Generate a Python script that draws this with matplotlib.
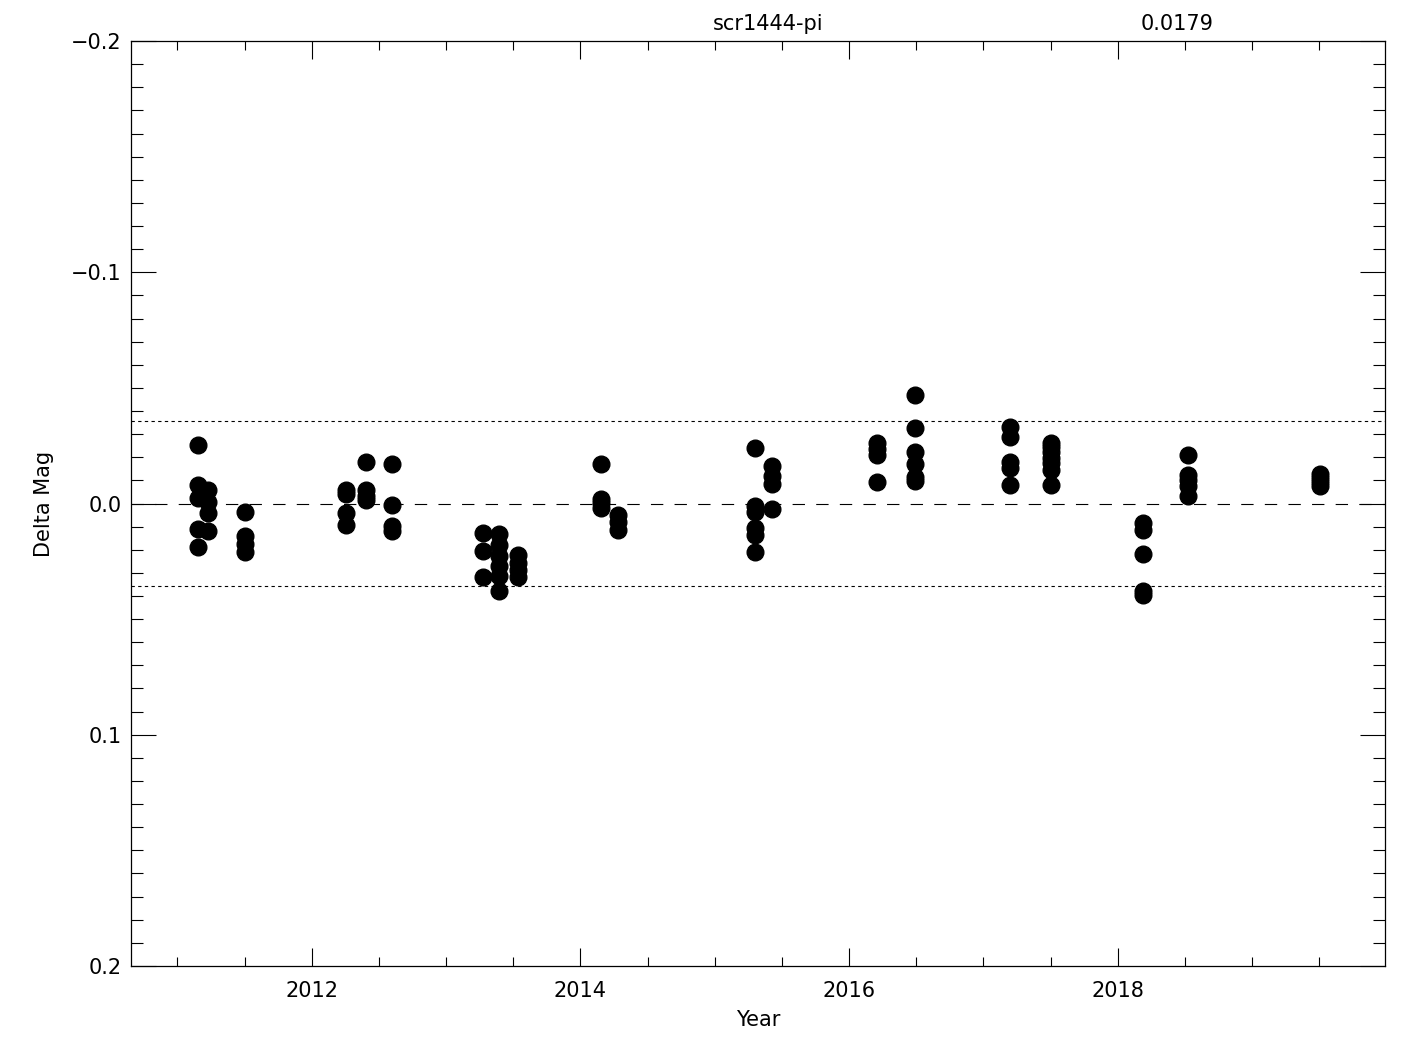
import numpy as np
import matplotlib
matplotlib.use('Agg')
import matplotlib.pyplot as plt
from matplotlib.ticker import MultipleLocator

plt.rcParams.update({'font.size': 15, 'font.family': 'DejaVu Sans', 'lines.scale_dashes': False})

star = 'scr1444-pi'
scatter_val = 0.0179

# epoch (decimal year) and the delta mags measured on that night
epochs = [2011.155, 2011.225, 2011.505, 2012.256, 2012.405, 2012.599,
          2013.272, 2013.391, 2013.533, 2014.157, 2014.281, 2015.299,
          2015.429, 2016.212, 2016.492, 2017.200, 2017.504, 2018.187,
          2018.527, 2019.504]
mags = [
    [-0.0253, -0.0080, -0.0024, 0.0110, 0.0188],
    [-0.0058, -0.0006, 0.0041, 0.0119],
    [0.0037, 0.0141, 0.0175, 0.0209],
    [-0.0058, -0.0041, 0.0041, 0.0093],
    [-0.0179, -0.0058, -0.0032, -0.0015],
    [-0.0171, 0.0006, 0.0097, 0.0119],
    [0.0128, 0.0205, 0.0318],
    [0.0132, 0.0179, 0.0227, 0.0270, 0.0314, 0.0378],
    [0.0223, 0.0257, 0.0288, 0.0318],
    [-0.0171, -0.0019, -0.0002, 0.0019],
    [0.0050, 0.0080, 0.0115],
    [-0.0240, 0.0011, 0.0037, 0.0106, 0.0136, 0.0210],
    [-0.0162, -0.0119, -0.0084, 0.0024],
    [-0.0262, -0.0236, -0.0210, -0.0093],
    [-0.0469, -0.0326, -0.0223, -0.0171, -0.0114, -0.0097],
    [-0.0331, -0.0288, -0.0179, -0.0154, -0.0080],
    [-0.0262, -0.0244, -0.0223, -0.0197, -0.0175, -0.0145, -0.0080],
    [0.0084, 0.0115, 0.0218, 0.0378, 0.0396],
    [-0.0210, -0.0123, -0.0102, -0.0076, -0.0032],
    [-0.0128, -0.0110, -0.0093, -0.0076],
]

x = np.concatenate([[e] * len(m) for e, m in zip(epochs, mags)])
y = np.concatenate(mags)

fig = plt.figure(figsize=(14.25, 10.5), dpi=100)
ax = fig.add_axes([131 / 1425, 84 / 1050, 1254 / 1425, 925 / 1050])

ax.plot(x, y, 'o', color='black', markersize=12, zorder=3)
ax.axhline(0, color='black', lw=0.8, ls=(0, (8.9, 8.1)))
ax.axhline(2 * scatter_val, color='black', lw=0.8, ls=(0, (2.4, 2.4)))
ax.axhline(-2 * scatter_val, color='black', lw=0.8, ls=(0, (2.4, 2.4)))

ax.set_xlim(2010.655, 2019.99)
ax.set_ylim(0.2, -0.2)
ax.xaxis.set_major_locator(MultipleLocator(2))
ax.xaxis.set_minor_locator(MultipleLocator(0.5))
ax.yaxis.set_major_locator(MultipleLocator(0.1))
ax.yaxis.set_minor_locator(MultipleLocator(0.01))
ax.yaxis.set_major_formatter(plt.FuncFormatter(lambda v, p: ('%.1f' % v).replace('-', '\u2212')))

ax.tick_params(axis='x', which='major', direction='in', length=13, width=0.8, top=True, pad=11)
ax.tick_params(axis='x', which='minor', direction='in', length=6.5, width=0.8, top=True)
ax.tick_params(axis='y', which='major', direction='in', length=18, width=0.8, right=True, pad=7)
ax.tick_params(axis='y', which='minor', direction='in', length=8.6, width=0.8, right=True)
for s in ax.spines.values():
    s.set_linewidth(0.9)

ax.set_xlabel('Year', labelpad=6)
ax.set_ylabel('Delta Mag', labelpad=12)

fig.text(768 / 1425, 1 - 24 / 1050, star, ha='center', va='center')
fig.text(1177 / 1425, 1 - 24 / 1050, '%.4f' % scatter_val, ha='center', va='center')

fig.savefig('out.png', dpi=100, facecolor='white')
